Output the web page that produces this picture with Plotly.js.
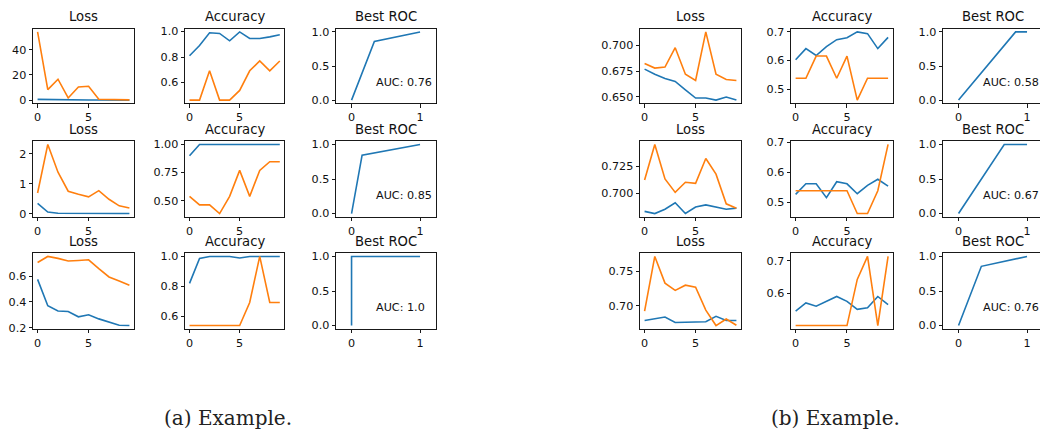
<!DOCTYPE html>
<html>
<head>
<meta charset="utf-8">
<script src="https://cdn.plot.ly/plotly-3.0.1.min.js"></script>
<style>
html,body{margin:0;padding:0;background:#fff;overflow:hidden;width:1040px;height:431px;}
#chart{width:1044px;height:431px;}
</style>
</head>
<body>
<div id="chart"></div>
<script>
// ---------- data ----------
const epochs = [0,1,2,3,4,5,6,7,8,9];
const metricTitles = ["Loss", "Accuracy", "Best ROC"];
const captions = ["(a) Example.", "(b) Example."];

// (a) row 1
const a1LossTrain = [0.7,0.5,0.3,0.2,0.3,0.2,0.2,0.2,0.1,0.1];
const a1LossVal   = [54,8.4,16.6,1.8,10.5,11,0.8,0.8,0.4,0.3];
const a1AccTrain  = [0.81,0.89,0.99,0.985,0.927,0.997,0.945,0.945,0.958,0.974];
const a1AccVal    = [0.462,0.462,0.692,0.462,0.462,0.538,0.692,0.769,0.692,0.769];
const a1RocFpr = [0,0.333,1];
const a1RocTpr = [0,0.86,1];
const a1Auc = "AUC: 0.76";
// (a) row 2
const a2LossTrain = [0.34,0.05,0.01,0.005,0.003,0.002,0.002,0.001,0.001,0.001];
const a2LossVal   = [0.69,2.32,1.39,0.75,0.65,0.56,0.77,0.48,0.26,0.19];
const a2AccTrain  = [0.90,1,1,1,1,1,1,1,1,1];
const a2AccVal    = [0.538,0.462,0.462,0.385,0.538,0.769,0.538,0.769,0.846,0.846];
const a2RocFpr = [0,0.154,1];
const a2RocTpr = [0,0.846,1];
const a2Auc = "AUC: 0.85";
// (a) row 3
const a3LossTrain = [0.576,0.371,0.33,0.326,0.284,0.30,0.268,0.245,0.218,0.216];
const a3LossVal   = [0.708,0.755,0.74,0.72,0.724,0.729,0.66,0.595,0.563,0.53];
const a3AccTrain  = [0.82,0.987,1,1,1,0.99,1,1,1,1];
const a3AccVal    = [0.538,0.538,0.538,0.538,0.538,0.538,0.692,1.0,0.692,0.692];
const a3RocFpr = [0,0,1];
const a3RocTpr = [0,1,1];
const a3Auc = "AUC: 1.0";
// (b) row 1
const b1LossTrain = [0.677,0.672,0.668,0.665,0.657,0.649,0.649,0.647,0.650,0.647];
const b1LossVal   = [0.6825,0.678,0.679,0.6977,0.672,0.666,0.713,0.672,0.667,0.666];
const b1AccTrain  = [0.602,0.641,0.617,0.648,0.672,0.679,0.699,0.693,0.641,0.68];
const b1AccVal    = [0.538,0.538,0.615,0.615,0.538,0.615,0.462,0.538,0.538,0.538];
const b1RocFpr = [0,0.833,1];
const b1RocTpr = [0,1,1];
const b1Auc = "AUC: 0.58";
// (b) row 2
const b2LossTrain = [0.683,0.681,0.685,0.691,0.681,0.687,0.689,0.687,0.685,0.686];
const b2LossVal   = [0.712,0.745,0.713,0.7006,0.710,0.709,0.732,0.7175,0.690,0.686];
const b2AccTrain  = [0.526,0.561,0.561,0.515,0.568,0.561,0.528,0.556,0.576,0.553];
const b2AccVal    = [0.538,0.538,0.538,0.538,0.538,0.538,0.462,0.462,0.538,0.692];
const b2RocFpr = [0,0.667,1];
const b2RocTpr = [0,1,1];
const b2Auc = "AUC: 0.67";
// (b) row 3
const b3LossTrain = [0.679,0.681,0.684,0.676,0.676,0.676,0.677,0.685,0.679,0.679];
const b3LossVal   = [0.6926,0.7716,0.733,0.7225,0.730,0.727,0.694,0.6716,0.681,0.672];
const b3AccTrain  = [0.545,0.57,0.56,0.575,0.59,0.575,0.55,0.555,0.59,0.565];
const b3AccVal    = [0.5,0.5,0.5,0.5,0.5,0.5,0.643,0.714,0.5,0.714];
const b3RocFpr = [0,0.333,1];
const b3RocTpr = [0,0.857,1];
const b3Auc = "AUC: 0.76";

// tick labels
const epochTicks = [0,5];
const rocXTicks = [0,1];
const rocYTicks = [0,0.5,1];
const rocYTickText = ["0.0","0.5","1.0"];
const lossTicks = {
  a1: [[0,20,40],["0","20","40"]],
  a2: [[0,1,2],["0","1","2"]],
  a3: [[0.2,0.4,0.6],["0.2","0.4","0.6"]],
  b1: [[0.65,0.675,0.7],["0.650","0.675","0.700"]],
  b2: [[0.7,0.725],["0.700","0.725"]],
  b3: [[0.7,0.75],["0.70","0.75"]]
};
const accTicks = {
  a1: [[0.6,0.8,1.0],["0.6","0.8","1.0"]],
  a2: [[0.5,0.75,1.0],["0.50","0.75","1.00"]],
  a3: [[0.6,0.8,1.0],["0.6","0.8","1.0"]],
  b1: [[0.5,0.6,0.7],["0.5","0.6","0.7"]],
  b2: [[0.5,0.6,0.7],["0.5","0.6","0.7"]],
  b3: [[0.6,0.7],["0.6","0.7"]]
};

const runs = [
  {key:"a1", g:0, r:0, lt:a1LossTrain, lv:a1LossVal, at:a1AccTrain, av:a1AccVal, fpr:a1RocFpr, tpr:a1RocTpr, auc:a1Auc},
  {key:"a2", g:0, r:1, lt:a2LossTrain, lv:a2LossVal, at:a2AccTrain, av:a2AccVal, fpr:a2RocFpr, tpr:a2RocTpr, auc:a2Auc},
  {key:"a3", g:0, r:2, lt:a3LossTrain, lv:a3LossVal, at:a3AccTrain, av:a3AccVal, fpr:a3RocFpr, tpr:a3RocTpr, auc:a3Auc},
  {key:"b1", g:1, r:0, lt:b1LossTrain, lv:b1LossVal, at:b1AccTrain, av:b1AccVal, fpr:b1RocFpr, tpr:b1RocTpr, auc:b1Auc},
  {key:"b2", g:1, r:1, lt:b2LossTrain, lv:b2LossVal, at:b2AccTrain, av:b2AccVal, fpr:b2RocFpr, tpr:b2RocTpr, auc:b2Auc},
  {key:"b3", g:1, r:2, lt:b3LossTrain, lv:b3LossVal, at:b3AccTrain, av:b3AccVal, fpr:b3RocFpr, tpr:b3RocTpr, auc:b3Auc}
];

// ---------- layout geometry ----------
const W = 1044, H = 431;
const colsPx = [[[33,134],[185,284.3],[336,436]], [[640,741],[791,892.7],[943,1043]]];
const rowsPx = [[28.5,103.5],[141,217],[253,329]];
const titleY = [17, 129.5, 241.5];
const BLUE = "#1f77b4", ORANGE = "#ff7f0e";
const FONT = "DejaVu Sans";

function autoRange(arrs){
  let mn = Infinity, mx = -Infinity;
  arrs.forEach(a => a.forEach(v => { if (v < mn) mn = v; if (v > mx) mx = v; }));
  const p = (mx - mn) * 0.05;
  return [mn - p, mx + p];
}

const axisBase = {
  showline:true, mirror:true, linecolor:"#000", linewidth:0.9,
  ticks:"outside", ticklen:3.5, tickwidth:0.9, tickcolor:"#000",
  showgrid:false, zeroline:false, fixedrange:true,
  tickfont:{family:FONT, size:11.2, color:"#111"},
  tickmode:"array"
};

const traces = [];
const layout = {
  width:W, height:H, margin:{l:0,r:0,t:0,b:0},
  paper_bgcolor:"#fff", plot_bgcolor:"#fff",
  showlegend:false, annotations:[]
};

let idx = 0;
runs.forEach(run => {
  for (let c = 0; c < 3; c++) {
    idx++;
    const xa = "x" + (idx === 1 ? "" : idx), ya = "y" + (idx === 1 ? "" : idx);
    const xName = "xaxis" + (idx === 1 ? "" : idx), yName = "yaxis" + (idx === 1 ? "" : idx);
    const cp = colsPx[run.g][c], rp = rowsPx[run.r];
    const xd = [cp[0]/W, Math.min(cp[1]/W, 1)];
    const yd = [1 - rp[1]/H, 1 - rp[0]/H];
    let xaxis, yaxis;
    if (c === 0) {
      traces.push({x:epochs, y:run.lt, xaxis:xa, yaxis:ya, mode:"lines", line:{color:BLUE, width:1.6}, hoverinfo:"skip"});
      traces.push({x:epochs, y:run.lv, xaxis:xa, yaxis:ya, mode:"lines", line:{color:ORANGE, width:1.6}, hoverinfo:"skip"});
      xaxis = Object.assign({}, axisBase, {domain:xd, range:[-0.45,9.45], tickvals:epochTicks, ticktext:epochTicks.map(String)});
      yaxis = Object.assign({}, axisBase, {domain:yd, range:autoRange([run.lt, run.lv]), tickvals:lossTicks[run.key][0], ticktext:lossTicks[run.key][1]});
    } else if (c === 1) {
      traces.push({x:epochs, y:run.at, xaxis:xa, yaxis:ya, mode:"lines", line:{color:BLUE, width:1.6}, hoverinfo:"skip"});
      traces.push({x:epochs, y:run.av, xaxis:xa, yaxis:ya, mode:"lines", line:{color:ORANGE, width:1.6}, hoverinfo:"skip"});
      xaxis = Object.assign({}, axisBase, {domain:xd, range:[-0.45,9.45], tickvals:epochTicks, ticktext:epochTicks.map(String)});
      yaxis = Object.assign({}, axisBase, {domain:yd, range:autoRange([run.at, run.av]), tickvals:accTicks[run.key][0], ticktext:accTicks[run.key][1]});
    } else {
      traces.push({x:run.fpr, y:run.tpr, xaxis:xa, yaxis:ya, mode:"lines", line:{color:BLUE, width:1.6}, hoverinfo:"skip"});
      xaxis = Object.assign({}, axisBase, {domain:xd, range:[-0.227,1.233], tickvals:rocXTicks, ticktext:rocXTicks.map(String)});
      yaxis = Object.assign({}, axisBase, {domain:yd, range:[-0.05,1.05], tickvals:rocYTicks, ticktext:rocYTickText});
      layout.annotations.push({xref:xa, yref:ya, x:0.33, y:0.265, xanchor:"left", yanchor:"middle",
        text:run.auc, showarrow:false, font:{family:FONT, size:11.2, color:"#111"}});
    }
    xaxis.anchor = ya; yaxis.anchor = xa;
    layout[xName] = xaxis; layout[yName] = yaxis;
    layout.annotations.push({xref:"paper", yref:"paper", x:((cp[0]+cp[1])/2)/W, y:1 - titleY[run.r]/H,
      xanchor:"center", yanchor:"middle", text:metricTitles[c], showarrow:false,
      font:{family:FONT, size:13.2, color:"#111"}});
  }
});

layout.annotations.push({xref:"paper", yref:"paper", x:228/W, y:1-418/H, xanchor:"center", yanchor:"middle",
  text:captions[0], showarrow:false, font:{family:"DejaVu Serif", size:20, color:"#222"}});
layout.annotations.push({xref:"paper", yref:"paper", x:835/W, y:1-418/H, xanchor:"center", yanchor:"middle",
  text:captions[1], showarrow:false, font:{family:"DejaVu Serif", size:20, color:"#222"}});

Plotly.newPlot("chart", traces, layout, {staticPlot:true, displayModeBar:false});
</script>
</body>
</html>
